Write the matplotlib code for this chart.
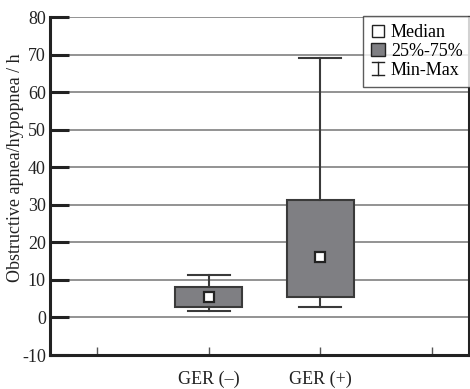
import matplotlib
matplotlib.use("Agg")
import matplotlib.pyplot as plt
from matplotlib.lines import Line2D
from matplotlib.patches import Patch
from matplotlib.legend_handler import HandlerBase

# Group summaries (events per hour)
groups = ["GER (\u2013)", "GER (+)"]
positions = [1, 2]
mins = [1.8, 2.8]
q1 = [2.7, 5.5]
medians = [5.5, 16.0]
q3 = [8.0, 31.3]
maxs = [11.4, 69.0]

yticks = [-10, 0, 10, 20, 30, 40, 50, 60, 70, 80]

plt.rcParams["font.family"] = ["Liberation Serif", "DejaVu Serif"]
plt.rcParams["axes.unicode_minus"] = False

fig = plt.figure(figsize=(4.70, 3.89), dpi=100)
ax = fig.add_axes([50 / 470, 1 - 355 / 389, 419 / 470, (355 - 17) / 389])

box_fill = "#7f7f83"
dark = "#3a3a3a"

stats = []
for i, g in enumerate(groups):
    stats.append(dict(label=g, whislo=mins[i], q1=q1[i], med=medians[i],
                      q3=q3[i], whishi=maxs[i], fliers=[]))

ax.bxp(stats, positions=positions, widths=0.6, capwidths=0.375,
       patch_artist=True, showfliers=False,
       boxprops=dict(facecolor=box_fill, edgecolor=dark, linewidth=1.5),
       whiskerprops=dict(color=dark, linewidth=1.5),
       capprops=dict(color=dark, linewidth=1.5),
       medianprops=dict(visible=False), zorder=3)

ax.plot(positions, medians, linestyle="none", marker="s", markersize=7,
        markerfacecolor="white", markeredgecolor="#222222",
        markeredgewidth=1.6, zorder=5)

ax.set_xlim(-0.42, 3.33)
ax.set_ylim(-10, 80)

ax.set_yticks(yticks)
ax.set_yticklabels([str(v) for v in yticks])
for v in yticks[1:]:
    ax.axhline(v, color="#8a8a8a", linewidth=1.3, zorder=1)

ax.set_xticks([0, 1, 2, 3])
ax.set_xticklabels(["", groups[0], groups[1], ""])

ax.tick_params(axis="y", direction="in", length=14, width=2.2, color="#222222",
               labelsize=13, pad=3, labelcolor="#222222")
ax.tick_params(axis="x", direction="in", length=6, width=1, color="#555555",
               labelsize=13, pad=11, labelcolor="#222222")

ax.spines["top"].set_visible(False)
for side in ["left", "bottom", "right"]:
    ax.spines[side].set_linewidth(2.2)
    ax.spines[side].set_color("#222222")

ax.set_ylabel("Obstructive apnea/hypopnea / h", fontsize=13, color="#222222")
ax.yaxis.set_label_coords(-0.062, 0.553)


class IBeamHandler(HandlerBase):
    def create_artists(self, legend, orig_handle, xdescent, ydescent,
                       width, height, fontsize, trans):
        cx = width / 2 - xdescent
        y0 = -ydescent
        y1 = height - ydescent
        w = height * 0.45
        lines = [
            Line2D([cx, cx], [y0, y1]),
            Line2D([cx - w, cx + w], [y0, y0]),
            Line2D([cx - w, cx + w], [y1, y1]),
        ]
        for ln in lines:
            ln.set_color("#222222")
            ln.set_linewidth(1.0)
            ln.set_transform(trans)
        return lines


class MinMax:
    pass


handles = [
    Line2D([], [], linestyle="none", marker="s", markersize=9,
           markerfacecolor="white", markeredgecolor="#222222",
           markeredgewidth=1.0),
    Patch(facecolor=box_fill, edgecolor="#222222", linewidth=1.0),
    MinMax(),
]
labels = ["Median", "25%-75%", "Min-Max"]

leg = ax.legend(handles, labels, handler_map={MinMax: IBeamHandler()},
                loc="upper left", bbox_to_anchor=((363 - 50) / 419, 1.003),
                fontsize=13, frameon=True, fancybox=False, shadow=False,
                handlelength=0.75, handleheight=0.75, handletextpad=0.35,
                labelspacing=0.1, borderpad=0.45, borderaxespad=0.0)
leg.get_frame().set_edgecolor("#333333")
leg.get_frame().set_linewidth(1.0)
leg.set_zorder(10)

fig.savefig("out.png", dpi=100)
